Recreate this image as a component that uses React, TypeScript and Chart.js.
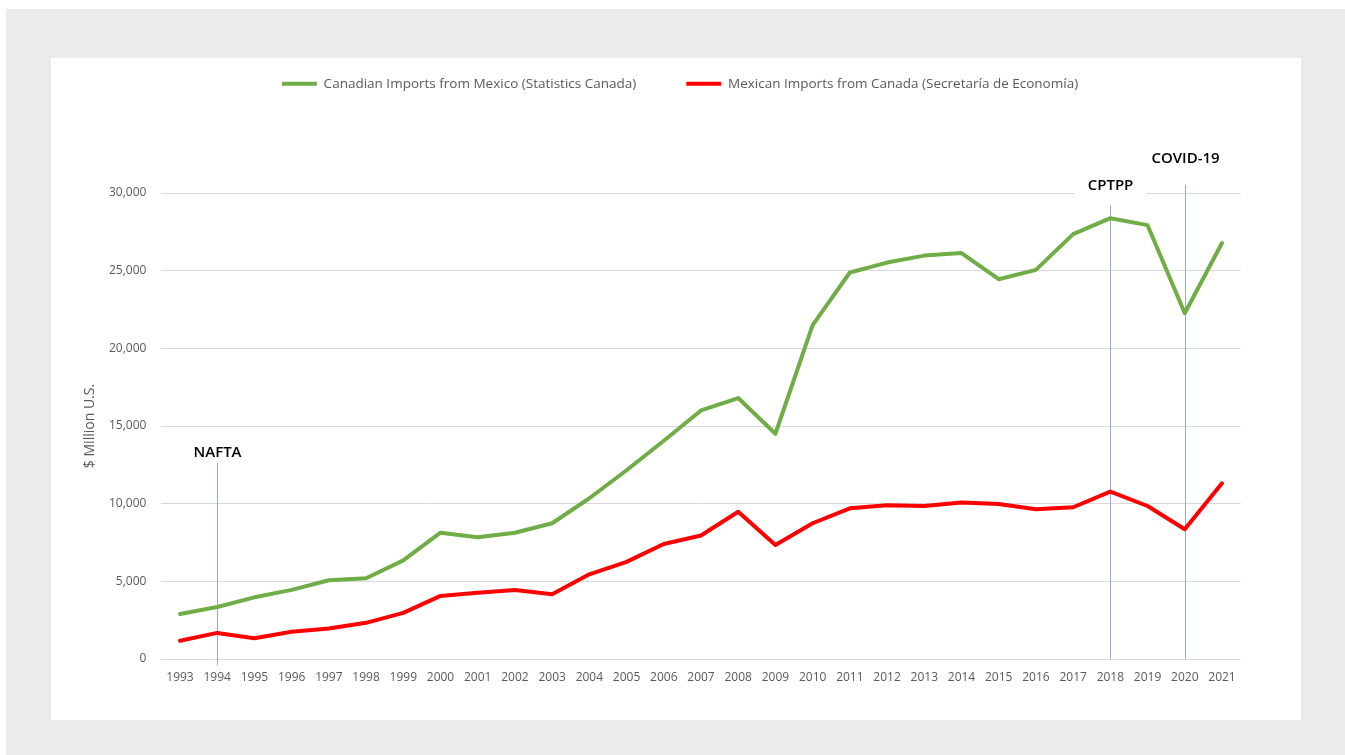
import { useEffect, useRef } from "react";
import { Chart, registerables } from "chart.js";

Chart.register(...registerables);

const years = [
  "1993", "1994", "1995", "1996", "1997", "1998", "1999", "2000", "2001", "2002",
  "2003", "2004", "2005", "2006", "2007", "2008", "2009", "2010", "2011", "2012",
  "2013", "2014", "2015", "2016", "2017", "2018", "2019", "2020", "2021",
];

const canadianImportsFromMexico = [
  2900, 3350, 3970, 4450, 5070, 5200, 6350, 8130, 7840, 8130,
  8740, 10350, 12150, 14050, 16000, 16800, 14500, 21500, 24880, 25520,
  25970, 26130, 24450, 25050, 27350, 28380, 27930, 22260, 26780,
];

const mexicanImportsFromCanada = [
  1180, 1680, 1330, 1760, 1970, 2330, 2970, 4060, 4270, 4440,
  4170, 5450, 6250, 7400, 7950, 9480, 7340, 8740, 9700, 9900,
  9850, 10070, 9980, 9640, 9770, 10780, 9850, 8350, 11310,
];

const seriesLabels = [
  "Canadian Imports from Mexico (Statistics Canada)",
  "Mexican Imports from Canada (Secretaría de Economía)",
];

const yAxisTitle = "$ Million U.S.";
const yMin = 0;
const yMax = 30000;
const yStep = 5000;

// event markers: year, line span (in data units) and label height (data units)
const eventYears = ["1994", "2018", "2020"];
const eventLabels = ["NAFTA", "CPTPP", "COVID-19"];
const eventLineFrom = [-400, 0, 0];
const eventLineTo = [12620, 29230, 30520];
const eventLabelAt = [13300, 30460, 32200];

const FONT = "'Open Sans', 'Liberation Sans', sans-serif";
const GREY_TEXT = "#595959";

const eventPlugin = {
  id: "eventMarkers",
  beforeDatasetsDraw(chart: any) {
    const { ctx } = chart;
    const x = chart.scales.x;
    const y = chart.scales.y;
    ctx.save();
    eventYears.forEach((yr, i) => {
      const idx = years.indexOf(yr);
      const px = Math.round(x.getPixelForValue(idx)) + 0.5;
      ctx.strokeStyle = "#8faadc";
      ctx.lineWidth = 1;
      ctx.beginPath();
      ctx.moveTo(px, y.getPixelForValue(eventLineFrom[i]));
      ctx.lineTo(px, y.getPixelForValue(eventLineTo[i]));
      ctx.stroke();

      ctx.font = `600 15px ${FONT}`;
      const w = ctx.measureText(eventLabels[i]).width;
      const ly = y.getPixelForValue(eventLabelAt[i]);
      ctx.fillStyle = "#ffffff";
      ctx.fillRect(px - w / 2 - 13, ly - 10, w + 26, 20);
      ctx.fillStyle = "#000000";
      ctx.textAlign = "center";
      ctx.textBaseline = "middle";
      ctx.fillText(eventLabels[i], px, ly);
    });
    ctx.restore();
  },
};

const LEGEND_HEIGHT = 166;
const LEGEND_CENTER = 629;

const legendPlacePlugin = {
  id: "legendPlace",
  beforeLayout(chart: any) {
    const legend = chart.legend;
    if (legend && !legend.__patched) {
      const origFit = legend.fit;
      legend.fit = function (this: any) {
        origFit.call(this);
        this.height = LEGEND_HEIGHT;
      };
      legend.__patched = true;
    }
  },
  afterLayout(chart: any) {
    const l = chart.legend;
    if (!l) return;
    const w = l.right - l.left;
    l.left = LEGEND_CENTER - w / 2;
    l.right = LEGEND_CENTER + w / 2;
  },
};

function ImportsChart() {
  const ref = useRef<HTMLCanvasElement | null>(null);

  useEffect(() => {
    if (!ref.current) return;
    const chart = new Chart(ref.current, {
      type: "line",
      data: {
        labels: years,
        datasets: [
          {
            label: seriesLabels[0],
            data: canadianImportsFromMexico,
            borderColor: "#70ad47",
            backgroundColor: "#70ad47",
            borderWidth: 4,
            pointRadius: 0,
            pointHoverRadius: 0,
            tension: 0,
            borderJoinStyle: "round",
            borderCapStyle: "round",
            pointStyle: "line",
          },
          {
            label: seriesLabels[1],
            data: mexicanImportsFromCanada,
            borderColor: "#ff0000",
            backgroundColor: "#ff0000",
            borderWidth: 4,
            pointRadius: 0,
            pointHoverRadius: 0,
            tension: 0,
            borderJoinStyle: "round",
            borderCapStyle: "round",
            pointStyle: "line",
          },
        ],
      },
      options: {
        responsive: false,
        animation: false,
        layout: { padding: { left: 0, right: 60.4, top: 0, bottom: 31 } },
        plugins: {
          legend: {
            position: "top",
            labels: {
              usePointStyle: true,
              pointStyle: "line",
              pointStyleWidth: 35,
              padding: 50,
              color: GREY_TEXT,
              font: { family: FONT, size: 13.5 },
            },
          },
          tooltip: { enabled: false },
        },
        scales: {
          x: {
            type: "category",
            offset: true,
            grid: { display: false, drawTicks: false },
            border: { display: false },
            ticks: {
              color: GREY_TEXT,
              font: { family: FONT, size: 12 },
              padding: 11,
              maxRotation: 0,
              autoSkip: false,
            },
            afterFit(scale: any) {
              scale.height = 30;
            },
          },
          y: {
            min: yMin,
            max: yMax,
            grid: { color: "#d9d9d9", lineWidth: 1, drawTicks: false },
            border: { display: false },
            ticks: {
              stepSize: yStep,
              color: GREY_TEXT,
              font: { family: FONT, size: 12 },
              padding: 15,
              callback: (v: any) => Number(v).toLocaleString("en-US"),
            },
            title: {
              display: true,
              text: yAxisTitle,
              color: GREY_TEXT,
              font: { family: FONT, size: 14 },
              padding: { top: 31, bottom: 0 },
            },
            afterFit(scale: any) {
              scale.width = 110.4;
            },
          },
        },
      },
      plugins: [legendPlacePlugin, eventPlugin],
    } as any);
    return () => chart.destroy();
  }, []);

  return (
    <canvas
      ref={ref}
      width={1250}
      height={693}
      style={{ position: "absolute", left: 0, top: -31, width: 1250, height: 693 }}
    />
  );
}

export default function App() {
  return (
    <div
      style={{
        position: "absolute",
        left: 6,
        top: 9,
        right: 0,
        bottom: 0,
        background: "#ebebeb",
        overflow: "hidden",
      }}
    >
      <div
        style={{
          position: "absolute",
          left: 45,
          top: 49,
          width: 1250,
          height: 662,
          background: "#ffffff",
        }}
      >
        <ImportsChart />
      </div>
    </div>
  );
}
